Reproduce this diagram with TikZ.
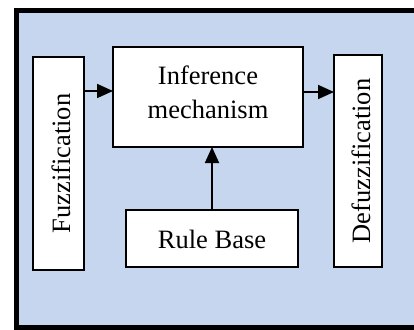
\documentclass[tikz,border=0pt]{standalone}
\usepackage{fontspec}
\setmainfont{Liberation Serif}
\usetikzlibrary{arrows.meta}
\definecolor{bgblue}{HTML}{C5D6EE}
\tikzset{
  blk/.style={draw=black, line width=1.8pt, fill=white, inner sep=0pt, outer sep=0pt},
  txt/.style={font=\fontsize{26.5}{34}\selectfont, align=center, inner sep=0pt},
  arr/.style={line width=1.8pt, -{Triangle[length=16pt,width=14pt]}}
}
\begin{document}
\begin{tikzpicture}[x=1pt,y=-1pt]
\useasboundingbox (0,0) rectangle (414,329);
\fill[white] (0,0) rectangle (414,329);
\draw[line width=5.5pt, fill=bgblue] (16.5,10.5) rectangle (430,327.5);
\node[blk, minimum width=51pt, minimum height=213pt] (fuzz) at (58.5,163.5) {};
\node[txt, rotate=90] (fuzzt) at (61,163.5) {Fuzzification};
\node[blk, minimum width=190pt, minimum height=100pt] (inf) at (208,97) {};
\node[txt] (inft) at (208,92) {Inference\\mechanism};
\node[blk, minimum width=48pt, minimum height=212pt] (defuzz) at (358,161) {};
\node[txt, rotate=90] (defuzzt) at (361,161) {Defuzzification};
\node[blk, minimum width=172pt, minimum height=57pt] (rule) at (212,238.5) {};
\node[txt] (rulet) at (212,239) {Rule Base};
\coordinate (a) at (0,91);
\coordinate (b) at (0,92);
\draw[arr] (fuzz.east |- a) -- (inf.west |- a);
\draw[arr] (inf.east |- b) -- (defuzz.west |- b);
\draw[arr] (rule.north) -- (inf.south -| rule.north);
\end{tikzpicture}
\end{document}
